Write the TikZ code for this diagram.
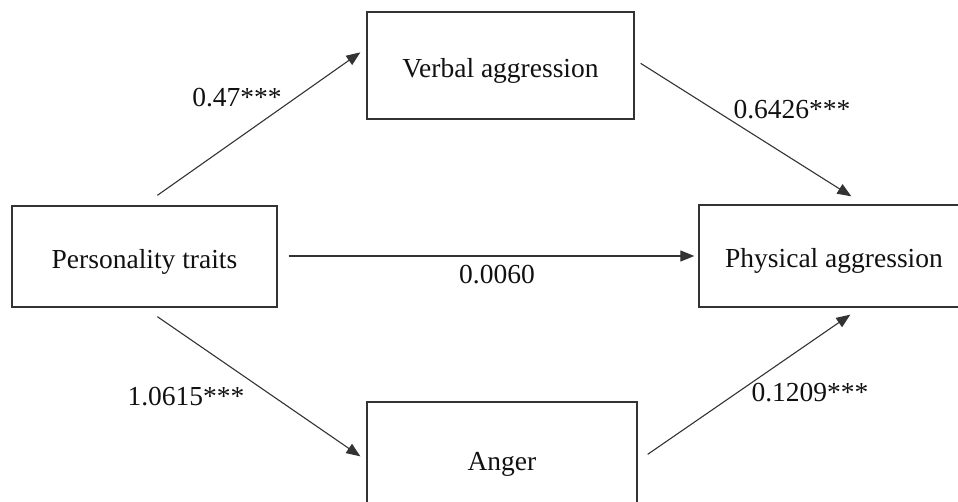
\documentclass[tikz,border=0pt]{standalone}
\usepackage{fontspec}
\setmainfont{Liberation Serif}
\usetikzlibrary{arrows.meta}
\definecolor{linec}{HTML}{333333}
\definecolor{textc}{HTML}{111111}
\tikzset{
  box/.style={draw=linec, line width=1.3pt, inner sep=0pt, minimum width=#1, text=textc,
    text height=24pt, text depth=0pt,
    font=\fontsize{27.5}{30}\selectfont},
  lab/.style={inner sep=0pt, text=textc, font=\fontsize{27.5}{30}\selectfont},
  arr/.style={draw=linec, line width=1.1pt, -{Triangle[length=14pt,width=11pt]}}
}
\begin{document}
\begin{tikzpicture}[x=1pt,y=1pt]
\useasboundingbox (0,0) rectangle (958,-502);
\clip (0,0) rectangle (958,-502);
\node[box=265pt, minimum height=101pt] (pt) at (144.5,-256.5) {Personality traits};
\node[box=267pt, minimum height=107pt] (va) at (500.5,-65.5) {Verbal aggression};
\node[box=270pt, minimum height=102pt] (pa) at (834,-256) {Physical aggression};
\node[box=270pt, minimum height=112pt] (an) at (502,-458) {Anger};

\draw[arr] ([shift={(146pt,10pt)}]pt.north west) -- ([shift={(-6pt,-41pt)}]va.north west);
\draw[arr] ([shift={(6pt,-52pt)}]va.north east) -- ([shift={(153pt,8pt)}]pa.north west);
\draw[arr] ([shift={(11pt,0.5pt)}]pt.east) -- ([xshift=-4pt]pa.west);
\draw[arr] ([shift={(146pt,-9pt)}]pt.south west) -- ([shift={(-6pt,-55pt)}]an.north west);
\draw[arr] ([shift={(10pt,-53pt)}]an.north east) -- ([shift={(152pt,-7pt)}]pa.south west);

\node[lab] (l1) at (237,-98) {0.47***};
\node[lab] (l2) at (792,-110) {0.6426***};
\node[lab] (l3) at (497,-275) {0.0060};
\node[lab] (l4) at (186,-397) {1.0615***};
\node[lab] (l5) at (810,-393) {0.1209***};
\end{tikzpicture}
\end{document}
